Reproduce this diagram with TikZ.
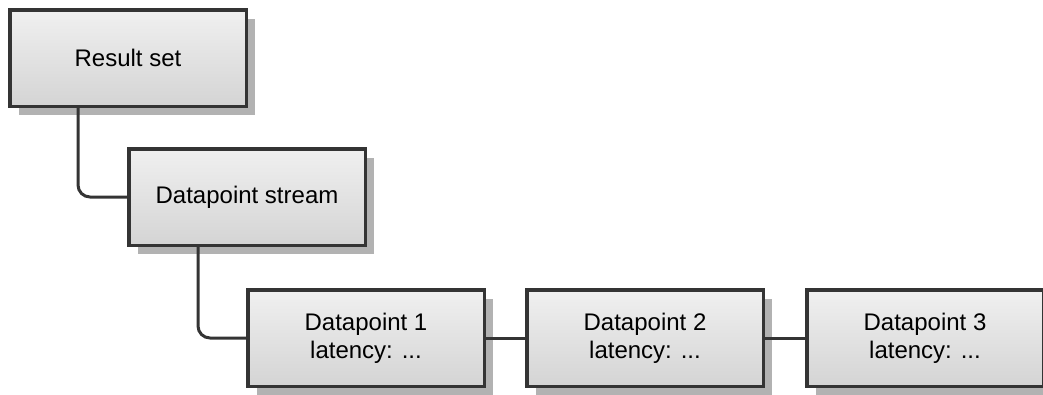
\documentclass[tikz,border=0pt]{standalone}
\usepackage{fontspec}
\setmainfont{Liberation Sans}
\usetikzlibrary{shadows}
\definecolor{edgec}{RGB}{52,52,52}
\definecolor{topc}{RGB}{240,240,240}
\definecolor{botc}{RGB}{212,212,212}
\definecolor{shadc}{RGB}{178,178,178}
\tikzset{
  box/.style={draw=edgec, line width=3.5pt, minimum width=236.5pt, minimum height=96.5pt,
    inner sep=0pt, top color=topc, bottom color=botc, align=center,
    font=\fontsize{24}{28}\selectfont,
    drop shadow={shadow xshift=9pt, shadow yshift=-9pt, fill=shadc, opacity=1}},
  link/.style={draw=edgec, line width=3pt, rounded corners=12pt}
}
\begin{document}
\begin{tikzpicture}[x=1pt, y=-1pt]
\useasboundingbox (0,0) rectangle (1043,394);
\node[box] (rs) at (128,58) {Result set};
\node[box] (ds) at (247,197) {Datapoint stream};
\node[box] (d1) at (366,338) {Datapoint 1\\latency: ...};
\node[box] (d2) at (645,338) {Datapoint 2\\latency: ...};
\node[box] (d3) at (925,338) {Datapoint 3\\latency: ...};
\draw[link] (rs.south west) ++(70pt,0) |- (ds.west);
\draw[link] (ds.south west) ++(71pt,0) |- (d1.west);
\draw[link] (d1) -- (d2);
\draw[link] (d2) -- (d3);
\end{tikzpicture}
\end{document}
